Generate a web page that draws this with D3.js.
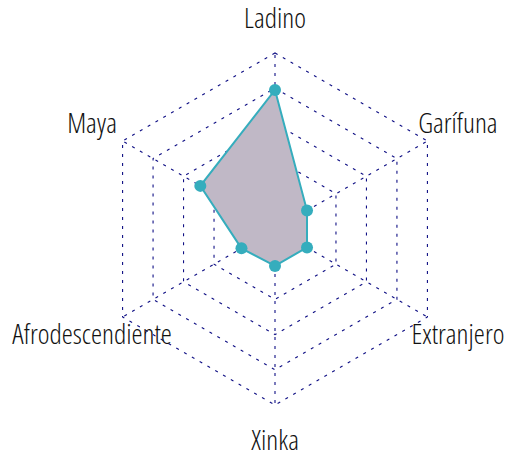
<!DOCTYPE html>
<html>
<head>
<meta charset="utf-8">
<script src="https://cdn.jsdelivr.net/npm/d3@7"></script>
<style>
  body { margin:0; background:#fff; }
  .lbl { font-family: "Open Sans", sans-serif; font-stretch: 75%; font-weight: 300; font-size: 28px; fill:#111; }
</style>
</head>
<body>
<div id="chart"></div>
<script>
  // axes, clockwise from the top
  var axes = ["Ladino", "Garífuna", "Extranjero", "Xinka", "Afrodescendiente", "Maya"]
  var values = [0.79, 0.21, 0.21, 0.21, 0.22, 0.49]
  var levels = [0.2, 0.4, 0.6, 0.8, 1.0]

  var W = 507, H = 458
  var cx = 275, cy = 229, R = 176
  var slice = 2 * Math.PI / axes.length

  var r = d3.scaleLinear().domain([0, 1]).range([0, R])

  var svg = d3.select("#chart").append("svg").attr("width", W).attr("height", H)
  var g = svg.append("g").attr("transform", "translate(" + cx + "," + cy + ")")

  function px(v, i) { return r(v) * Math.cos(slice * i - Math.PI / 2) }
  function py(v, i) { return r(v) * Math.sin(slice * i - Math.PI / 2) }

  var ring = d3.lineRadial()
      .radius(function(d) { return r(d.v) })
      .angle(function(d) { return d.i * slice })
      .curve(d3.curveLinearClosed)

  // grid rings
  g.selectAll(".ring").data(levels).enter().append("path")
      .attr("d", function(l) { return ring(axes.map(function(a, i) { return {v: l, i: i} })) })
      .style("fill", "none")
      .style("stroke", "#101085")
      .style("stroke-width", 1.1)
      .style("stroke-dasharray", "3,6")

  // axis lines
  g.selectAll(".ax").data(axes).enter().append("line")
      .attr("x1", 0).attr("y1", 0)
      .attr("x2", function(d, i) { return px(1, i) })
      .attr("y2", function(d, i) { return py(1, i) })
      .style("stroke", "#101085")
      .style("stroke-width", 1.1)
      .style("stroke-dasharray", "3,6")

  // labels
  g.selectAll(".lbl").data(axes).enter().append("text")
      .attr("class", "lbl")
      .attr("text-anchor", "middle")
      .attr("dy", "0.35em")
      .attr("x", function(d, i) { return px(1.2, i) })
      .attr("y", function(d, i) { return py(1.2, i) })
      .text(function(d) { return d })

  // data area
  var pts = values.map(function(v, i) { return {v: v, i: i} })
  g.append("path")
      .attr("d", ring(pts))
      .style("fill", "#c0b8c6")
      .style("stroke", "#35adbd")
      .style("stroke-width", 2)

  g.selectAll(".dot").data(pts).enter().append("circle")
      .attr("cx", function(d) { return px(d.v, d.i) })
      .attr("cy", function(d) { return py(d.v, d.i) })
      .attr("r", 6)
      .style("fill", "#35adbd")
</script>
</body>
</html>
